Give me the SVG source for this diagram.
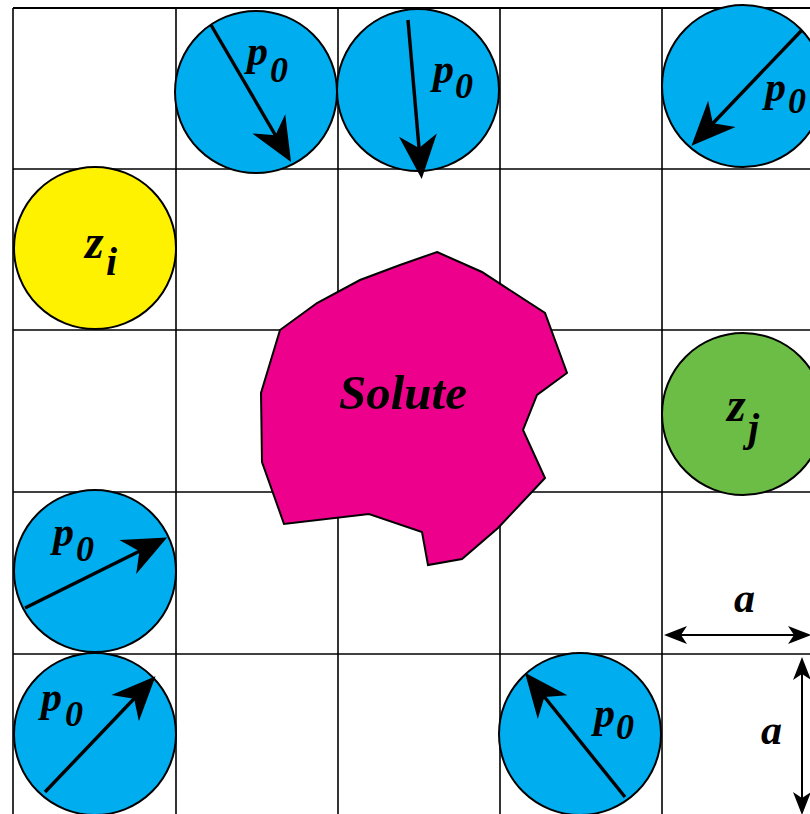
<svg xmlns="http://www.w3.org/2000/svg" width="810" height="814" viewBox="0 0 810 814">
<style>
.grid{stroke:#000;stroke-width:1.6;fill:none}
.ball{stroke:#000;stroke-width:2}
.blue{fill:#00AEEF}
.arr{stroke:#000;stroke-width:3.4;fill:none;marker-end:url(#big)}
.dim{stroke:#000;stroke-width:2;fill:none;marker-start:url(#small);marker-end:url(#small)}
text{font-family:"Liberation Serif","Times New Roman",serif;font-weight:bold;font-style:italic;fill:#000}
.lab{font-size:42px}
.sub{font-size:36px}
</style>
<defs>
<marker id="big" markerUnits="userSpaceOnUse" viewBox="-40 -22 52 44" refX="0" refY="0" markerWidth="52" markerHeight="44" orient="auto" overflow="visible">
<path d="M8,0 L-36,-19 L-23,0 L-36,19 Z" fill="#000"/>
</marker>
<marker id="small" markerUnits="userSpaceOnUse" viewBox="-30 -12 36 24" refX="0" refY="0" markerWidth="36" markerHeight="24" orient="auto-start-reverse" overflow="visible">
<path d="M3,0 L-20,-9 L-14,0 L-20,9 Z" fill="#000"/>
</marker>
</defs>
<rect width="810" height="814" fill="#fff"/>
<g id="grid" class="grid">
<line x1="13" y1="8" x2="13" y2="814"/>
<line x1="176" y1="8" x2="176" y2="814"/>
<line x1="338" y1="8" x2="338" y2="814"/>
<line x1="500" y1="8" x2="500" y2="814"/>
<line x1="662" y1="8" x2="662" y2="814"/>
<line x1="13" y1="8" x2="810" y2="8" stroke-width="2.2"/>
<line x1="13" y1="169" x2="810" y2="169"/>
<line x1="13" y1="330" x2="810" y2="330"/>
<line x1="13" y1="492" x2="810" y2="492"/>
<line x1="13" y1="654" x2="810" y2="654"/>
</g>
<g id="p1">
<circle class="ball blue" cx="256" cy="92" r="81"/>
<line class="arr" x1="211" y1="25" x2="287" y2="155"/>
<text class="lab" x="247" y="65">p<tspan class="sub" x="270" y="82">0</tspan></text>
</g>
<g id="p2">
<circle class="ball blue" cx="418" cy="90" r="81"/>
<line class="arr" x1="408" y1="20" x2="421" y2="171"/>
<text class="lab" x="433" y="83">p<tspan class="sub" x="455" y="98">0</tspan></text>
</g>
<g id="p3">
<circle class="ball blue" cx="743" cy="86" r="81"/>
<line class="arr" x1="802" y1="30" x2="697" y2="140"/>
<text class="lab" x="765" y="101">p<tspan class="sub" x="788" y="113">0</tspan></text>
</g>
<g id="zi">
<circle class="ball" cx="95" cy="248" r="81" fill="#FFF200"/>
<text x="85" y="258" font-size="48">z<tspan x="106" y="275" font-size="40">i</tspan></text>
</g>
<g id="solute">
<path d="M437,252 L482,272 L545,313 L567,373 L537,395 L523,430 L545,478 L498,528 L462,559 L428,565 L422,532 L369,514 L284,524 L262,462 L261,393 L280,330 L317,303 L360,280 L400,265 Z" fill="#EC008C" stroke="#000" stroke-width="2"/>
<text x="339" y="409" font-size="49">Solute</text>
</g>
<g id="zj">
<circle class="ball" cx="743" cy="414" r="81" fill="#6CBD45"/>
<text x="727" y="421" font-size="48">z<tspan x="748" y="441" font-size="40">j</tspan></text>
</g>
<g id="p4">
<circle class="ball blue" cx="95" cy="571" r="81"/>
<line class="arr" x1="25" y1="608" x2="160" y2="541"/>
<text class="lab" x="53" y="546">p<tspan class="sub" x="76" y="561">0</tspan></text>
</g>
<g id="p5">
<circle class="ball blue" cx="95" cy="734" r="81"/>
<line class="arr" x1="45" y1="792" x2="150" y2="682"/>
<text class="lab" x="41" y="711">p<tspan class="sub" x="65" y="726">0</tspan></text>
</g>
<g id="p6">
<circle class="ball blue" cx="580" cy="734" r="81"/>
<line class="arr" x1="625" y1="797" x2="530" y2="679"/>
<text class="lab" x="594" y="727">p<tspan class="sub" x="616" y="739">0</tspan></text>
</g>
<g id="connectors">
<line class="dim" x1="667" y1="635" x2="808" y2="635"/>
<line class="dim" x1="802" y1="660" x2="802" y2="812"/>
<text class="lab" x="734" y="612">a</text>
<text class="lab" x="761" y="744">a</text>
</g>
</svg>
